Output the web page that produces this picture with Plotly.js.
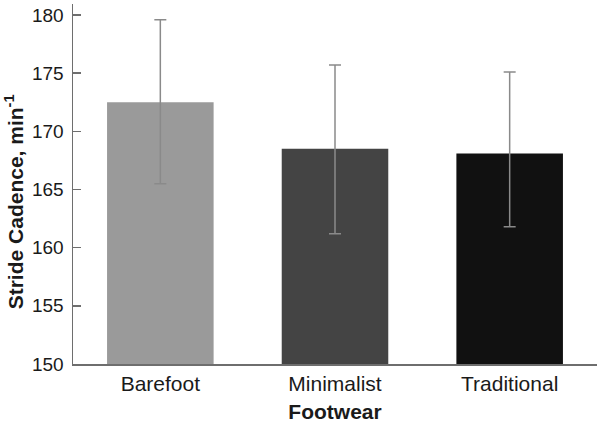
<!DOCTYPE html>
<html>
<head>
<meta charset="utf-8">
<script src="https://cdn.plot.ly/plotly-3.0.1.min.js"></script>
<style>
  html, body { margin: 0; padding: 0; background: #fff; }
  #chart { width: 602px; height: 423px; }
</style>
</head>
<body>
<div id="chart"></div>
<script>
var footwear = ['Barefoot', 'Minimalist', 'Traditional'];
var cadenceMean = [172.5, 168.5, 168.1];
var cadenceUpper = [179.6, 175.7, 175.1];
var cadenceLower = [165.5, 161.2, 161.8];
var barColors = ['#9a9a9a', '#444444', '#111111'];
var yTicks = [150, 155, 160, 165, 170, 175, 180];

var plus = cadenceUpper.map(function (u, i) { return u - cadenceMean[i]; });
var minus = cadenceLower.map(function (l, i) { return cadenceMean[i] - l; });

var trace = {
  type: 'bar',
  x: footwear,
  y: cadenceMean,
  base: 0,
  width: 0.61,
  marker: { color: barColors, line: { width: 0 } },
  error_y: {
    type: 'data',
    symmetric: false,
    array: plus,
    arrayminus: minus,
    color: '#8a8a8a',
    thickness: 1.5,
    width: 6
  },
  hoverinfo: 'none'
};

var layout = {
  width: 602,
  height: 423,
  margin: { l: 73, r: 5, t: 4, b: 59 },
  paper_bgcolor: '#fff',
  plot_bgcolor: '#fff',
  showlegend: false,
  font: { family: 'Liberation Sans, Arial, sans-serif', color: '#1a1a1a' },
  xaxis: {
    range: [-0.5, 2.5],
    showline: true,
    linecolor: '#6e6e6e',
    linewidth: 1.5,
    ticks: '',
    showgrid: false,
    zeroline: false,
    tickfont: { size: 21, color: '#1a1a1a' },
    title: { text: 'Footwear', font: { size: 21, color: '#1a1a1a', weight: 'bold' }, standoff: 10 }
  },
  yaxis: {
    range: [150, 180.95],
    tickvals: yTicks,
    showline: true,
    linecolor: '#6e6e6e',
    linewidth: 1.5,
    ticks: 'inside',
    ticklen: 8,
    tickwidth: 1.5,
    tickcolor: '#6e6e6e',
    showgrid: false,
    zeroline: false,
    ticklabelstandoff: 4,
    tickfont: { size: 19, color: '#1a1a1a' }
  },
  // y title drawn as an annotation so it sits a bit below the plot centre, like the original
  annotations: [{
    text: 'Stride Cadence, min<sup>-1</sup>',
    textangle: -90,
    xref: 'paper', yref: 'paper',
    x: -0.112, y: 0.45,
    xanchor: 'center', yanchor: 'middle',
    showarrow: false,
    font: { size: 21, color: '#1a1a1a', weight: 'bold' }
  }]
};

Plotly.newPlot('chart', [trace], layout, { staticPlot: true, displayModeBar: false });
</script>
</body>
</html>
